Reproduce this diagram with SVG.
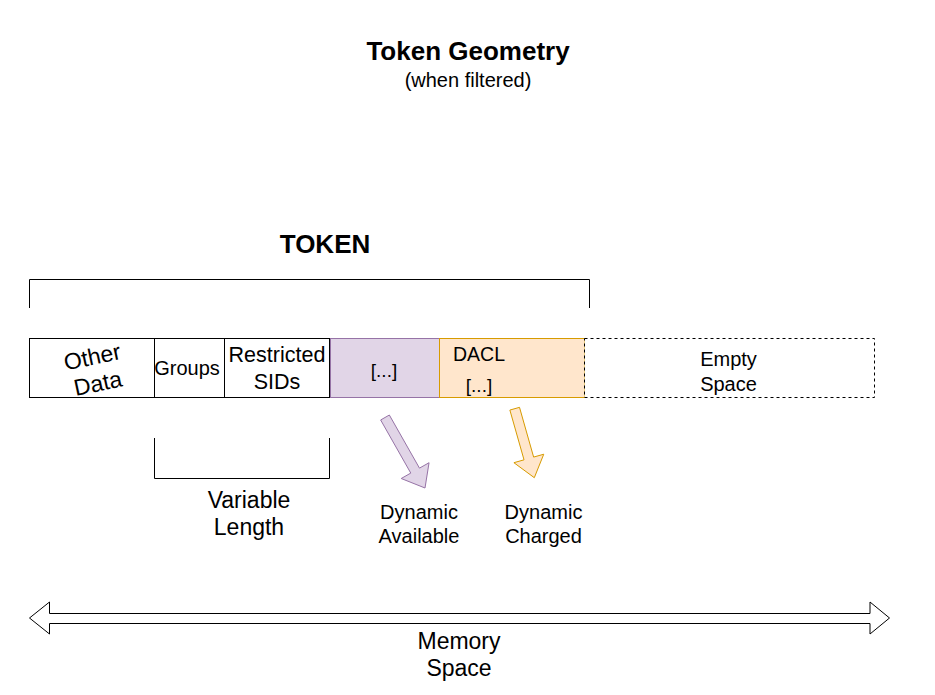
<svg xmlns="http://www.w3.org/2000/svg" width="935" height="695" viewBox="0 0 935 695">
<style>
text{font-family:"Liberation Sans",Arial,sans-serif;fill:#000}
.c{text-anchor:middle}
.b{font-weight:bold}
.box{fill:#fff;stroke:#000;stroke-width:1}
.ln{fill:none;stroke:#000;stroke-width:1}
.pur{fill:#e1d5e7;stroke:#9673a6;stroke-width:1}
.org{fill:#ffe6cc;stroke:#d79b00;stroke-width:1}
</style>
<rect width="935" height="695" fill="#fff"/>
<g id="title">
<text class="c b" x="468" y="60" font-size="26">Token Geometry</text>
<text class="c" x="468" y="87" font-size="20">(when filtered)</text>
</g>
<g id="token-label">
<text class="c b" x="325" y="253" font-size="26">TOKEN</text>
</g>
<g id="token-bracket">
<path class="ln" d="M29.5,308 V279.5 H589.5 V308"/>
</g>
<g id="other-data">
<rect class="box" x="29.5" y="338.5" width="125" height="59"/>
<g transform="rotate(-12 95 370)">
<text class="c" x="95" y="364.5" font-size="23">Other</text>
<text class="c" x="95" y="391.5" font-size="23">Data</text>
</g>
</g>
<g id="groups">
<rect class="box" x="154.5" y="338.5" width="70" height="59"/>
<text class="c" x="187" y="375" font-size="20">Groups</text>
</g>
<g id="restricted-sids">
<rect class="box" x="224.5" y="338.5" width="105" height="59"/>
<text class="c" x="277" y="362" font-size="21.5">Restricted</text>
<text class="c" x="277" y="389" font-size="21.5">SIDs</text>
</g>
<g id="dynamic-available-block">
<rect class="pur" x="330.5" y="338.5" width="109" height="59"/>
<text class="c" x="384" y="377" font-size="19">[...]</text>
</g>
<g id="dacl">
<rect class="org" x="439.5" y="338.5" width="145" height="59"/>
<text x="453" y="361" font-size="19.5">DACL</text>
<text class="c" x="479" y="392" font-size="19">[...]</text>
</g>
<g id="empty-space">
<rect x="584.5" y="338.5" width="290" height="59" fill="#fff" stroke="#000" stroke-width="1" stroke-dasharray="3 3"/>
<text class="c" x="728.5" y="366" font-size="20">Empty</text>
<text class="c" x="728.5" y="391" font-size="20">Space</text>
</g>
<g id="variable-length">
<path class="ln" d="M154.5,438 V478.5 H329.5 V438"/>
<text class="c" x="249" y="508" font-size="23">Variable</text>
<text class="c" x="249" y="535" font-size="23">Length</text>
</g>
<g id="connectors">
<polygon class="pur" points="389.35,415.03 419.48,468.14 429.05,462.71 425,488 401.21,478.51 410.78,473.08 380.65,419.97"/>
<polygon class="org" points="519.51,407.33 533.64,457.09 543.74,454.22 534.3,477.7 513.92,462.7 524.02,459.83 509.89,410.07"/>
<polygon fill="#fff" stroke="#000" stroke-width="1" points="29.5,618 49.5,602 49.5,613.5 870,613.5 870,602 889.5,618 870,634 870,623.5 49.5,623.5 49.5,634"/>
</g>
<g id="dynamic-available">
<text class="c" x="419" y="519" font-size="20">Dynamic</text>
<text class="c" x="419" y="543" font-size="20">Available</text>
</g>
<g id="dynamic-charged">
<text class="c" x="543.5" y="519" font-size="20">Dynamic</text>
<text class="c" x="543.5" y="543" font-size="20">Charged</text>
</g>
<g id="memory-space">
<text class="c" x="459" y="649" font-size="23">Memory</text>
<text class="c" x="459" y="676" font-size="23">Space</text>
</g>
</svg>
